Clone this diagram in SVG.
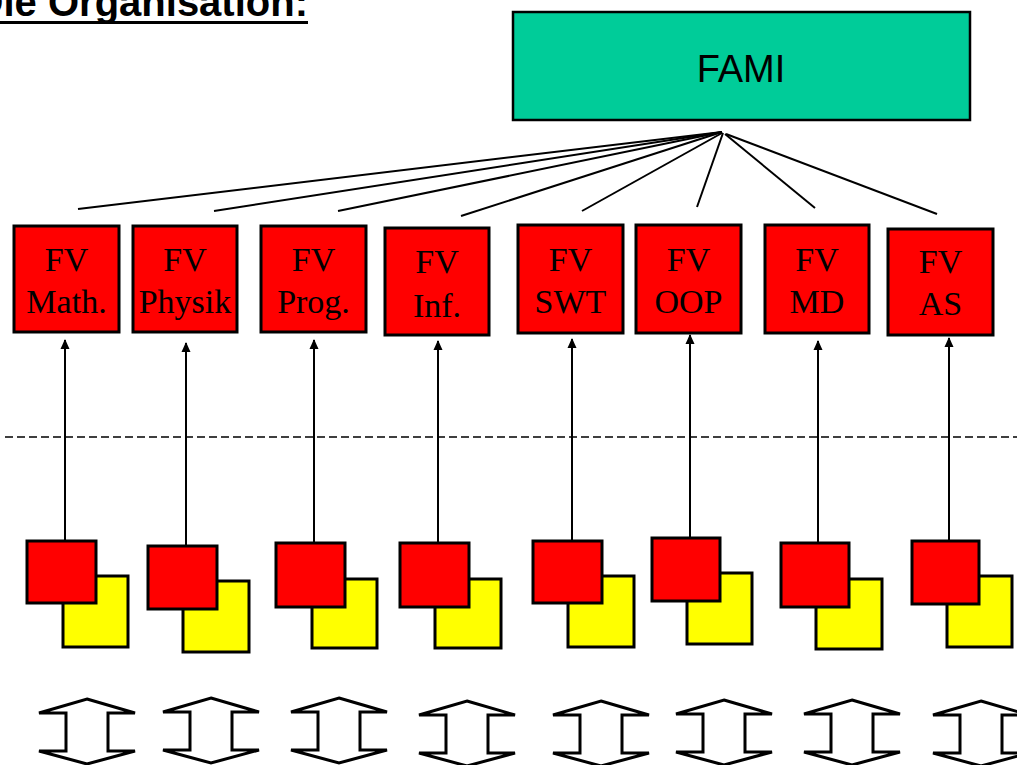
<svg xmlns="http://www.w3.org/2000/svg" width="1017" height="765" viewBox="0 0 1017 765">
<style>
.fv{fill:#ff0000;stroke:#000;stroke-width:3}
.red{fill:#ff0000;stroke:#000;stroke-width:3}
.yel{fill:#ffff00;stroke:#000;stroke-width:3}
.fvt{font-family:"Liberation Serif","Times New Roman",serif;font-size:34px;fill:#000;text-anchor:middle}
.ln{stroke:#000;stroke-width:2;fill:none}
.up{stroke:#000;stroke-width:2;fill:none;marker-end:url(#ah)}
.dbl{fill:#fff;stroke:#000;stroke-width:3;stroke-linejoin:miter;stroke-miterlimit:4}
</style>
<defs>
<marker id="ah" markerWidth="10" markerHeight="12" refX="9" refY="4.5" orient="auto" markerUnits="userSpaceOnUse" viewBox="0 0 10 9">
<path d="M0,0 L10,4.5 L0,9 Z" fill="#000"/>
</marker>
<path id="dbl" d="M0,0 L48,14 L21,14 L21,52 L48,52 L0,65 L-48,52 L-21,52 L-21,14 L-48,14 Z"/>
</defs>
<rect width="1017" height="765" fill="#fff"/>

<g id="title">
<text x="308" y="16" text-anchor="end" font-family="Liberation Sans, Arial, sans-serif" font-weight="bold" font-size="40" fill="#000">Die Organisation:</text>
<line x1="0" y1="22.5" x2="308" y2="22.5" stroke="#000" stroke-width="3"/>
</g>

<g id="connectors">
<line class="ln" x1="722" y1="132" x2="78" y2="209"/>
<line class="ln" x1="722" y1="132" x2="214" y2="211"/>
<line class="ln" x1="722" y1="132" x2="338" y2="211"/>
<line class="ln" x1="722" y1="132" x2="461" y2="216"/>
<line class="ln" x1="722" y1="133" x2="582" y2="211"/>
<line class="ln" x1="723" y1="133" x2="697" y2="207"/>
<line class="ln" x1="725" y1="134" x2="815" y2="208"/>
<line class="ln" x1="726" y1="134" x2="937" y2="214"/>
<line class="up" x1="65" y1="541" x2="65" y2="340"/>
<line class="up" x1="186" y1="546" x2="186" y2="343"/>
<line class="up" x1="314" y1="543" x2="314" y2="340"/>
<line class="up" x1="438" y1="543" x2="438" y2="341"/>
<line class="up" x1="572" y1="541" x2="572" y2="339"/>
<line class="up" x1="690" y1="538" x2="690" y2="335"/>
<line class="up" x1="818" y1="543" x2="818" y2="341"/>
<line class="up" x1="949" y1="541" x2="949" y2="338"/>
<line x1="5" y1="437" x2="1017" y2="437" stroke="#000" stroke-width="1.5" stroke-dasharray="8,4"/>
</g>

<g id="fami">
<rect x="513" y="12" width="457" height="108" fill="#00cc99" stroke="#000" stroke-width="2.5"/>
<text x="741" y="82" text-anchor="middle" font-family="Liberation Sans, Arial, sans-serif" font-size="38" fill="#000">FAMI</text>
</g>

<g id="fv-math"><rect class="fv" x="14" y="226" width="105" height="106"/><text class="fvt" x="66.5" y="271">FV</text><text class="fvt" x="66.5" y="313">Math.</text></g>
<g id="fv-physik"><rect class="fv" x="133" y="226" width="104" height="106"/><text class="fvt" x="185" y="271">FV</text><text class="fvt" x="185" y="313">Physik</text></g>
<g id="fv-prog"><rect class="fv" x="261" y="226" width="105" height="106"/><text class="fvt" x="313.5" y="271">FV</text><text class="fvt" x="313.5" y="313">Prog.</text></g>
<g id="fv-inf"><rect class="fv" x="385" y="228" width="104" height="107"/><text class="fvt" x="437" y="273">FV</text><text class="fvt" x="437" y="317">Inf.</text></g>
<g id="fv-swt"><rect class="fv" x="518" y="225" width="105" height="108"/><text class="fvt" x="570.5" y="271">FV</text><text class="fvt" x="570.5" y="313">SWT</text></g>
<g id="fv-oop"><rect class="fv" x="636" y="225" width="105" height="108"/><text class="fvt" x="688.5" y="271">FV</text><text class="fvt" x="688.5" y="313">OOP</text></g>
<g id="fv-md"><rect class="fv" x="765" y="225" width="104" height="108"/><text class="fvt" x="817" y="271">FV</text><text class="fvt" x="817" y="313">MD</text></g>
<g id="fv-as"><rect class="fv" x="888" y="229" width="105" height="106"/><text class="fvt" x="940.5" y="273">FV</text><text class="fvt" x="940.5" y="315">AS</text></g>

<g id="pair1"><rect class="yel" x="63" y="576" width="65" height="71"/><rect class="red" x="27" y="541" width="69" height="62"/></g>
<g id="pair2"><rect class="yel" x="183" y="581" width="66" height="71"/><rect class="red" x="148" y="546" width="69" height="63"/></g>
<g id="pair3"><rect class="yel" x="312" y="579" width="65" height="69"/><rect class="red" x="276" y="543" width="69" height="64"/></g>
<g id="pair4"><rect class="yel" x="435" y="579" width="66" height="69"/><rect class="red" x="400" y="543" width="69" height="64"/></g>
<g id="pair5"><rect class="yel" x="568" y="576" width="66" height="71"/><rect class="red" x="533" y="541" width="69" height="62"/></g>
<g id="pair6"><rect class="yel" x="687" y="573" width="65" height="71"/><rect class="red" x="652" y="538" width="68" height="63"/></g>
<g id="pair7"><rect class="yel" x="816" y="579" width="66" height="70"/><rect class="red" x="781" y="543" width="68" height="64"/></g>
<g id="pair8"><rect class="yel" x="947" y="576" width="65" height="71"/><rect class="red" x="912" y="541" width="67" height="63"/></g>

<g id="exchange-arrows">
<use href="#dbl" class="dbl" x="87" y="699"/>
<use href="#dbl" class="dbl" x="211" y="698"/>
<use href="#dbl" class="dbl" x="339" y="698"/>
<use href="#dbl" class="dbl" x="467" y="701"/>
<use href="#dbl" class="dbl" x="601" y="701"/>
<use href="#dbl" class="dbl" x="724" y="700"/>
<use href="#dbl" class="dbl" x="852" y="700"/>
<use href="#dbl" class="dbl" x="981" y="701"/>
</g>
</svg>
